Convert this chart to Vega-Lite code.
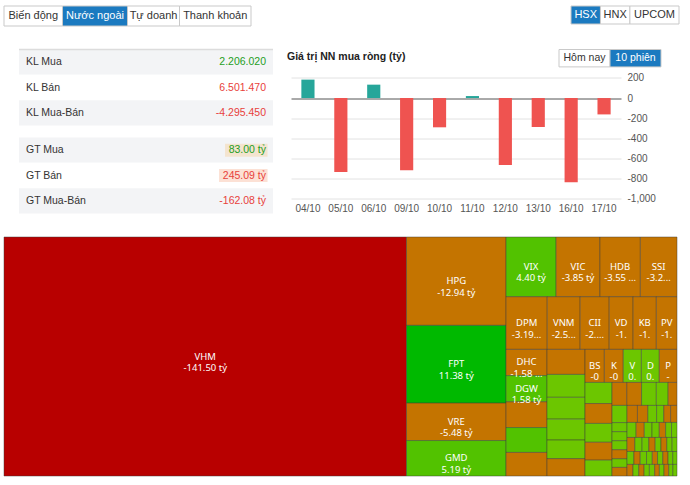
{
  "$schema": "https://vega.github.io/schema/vega-lite/v6.json",
  "background": "white",
  "padding": {"left": 3, "top": 5, "right": 14, "bottom": 10},
  "config": {
    "view": {"stroke": null}, "font": "Liberation Sans",
    "axis": {"labelOverlap": false},
    "locale": {"number": {"decimal": ".", "thousands": ",", "grouping": [3], "currency": ["$", ""], "minus": "-"}}
  },
  "spacing": 21.5,
  "vconcat": [
    {
      "spacing": 318,
      "hconcat": [
        {
          "width": 247, "height": 20,
          "data": {"values": [{"t": "Biến động"}, {"t": "Nước ngoài", "sel": true}, {"t": "Tự doanh"}, {"t": "Thanh khoản"}]},
          "transform": [
            {"window": [{"op": "row_number", "as": "o"}]},
            {"calculate": "length(datum.t)", "as": "len"},
            {"stack": "len", "groupby": [], "sort": [{"field": "o"}], "offset": "normalize", "as": ["s0", "s1"]},
            {"calculate": "(datum.s0+datum.s1)/2", "as": "sm"}
          ],
          "layer": [
            {"mark": {"type": "rect", "stroke": "#c9c9c9", "strokeWidth": 1},
             "encoding": {"x": {"field": "s0", "type": "quantitative", "scale": {"domain": [0, 1]}, "axis": null}, "x2": {"field": "s1"},
                          "fill": {"condition": {"test": "datum.sel === true", "value": "#1b7ac0"}, "value": "white"}}},
            {"mark": {"type": "text", "fontSize": 11, "baseline": "middle"},
             "encoding": {"x": {"field": "sm", "type": "quantitative", "scale": {"domain": [0, 1]}, "axis": null}, "text": {"field": "t"},
                          "color": {"condition": {"test": "datum.sel === true", "value": "white"}, "value": "#333333"}}}
          ]
        },
        {
          "width": 108, "height": 18,
          "data": {"values": [{"t": "HSX", "sel": true}, {"t": "HNX"}, {"t": "UPCOM"}]},
          "transform": [
            {"window": [{"op": "row_number", "as": "o"}]},
            {"calculate": "length(datum.t)", "as": "len"},
            {"stack": "len", "groupby": [], "sort": [{"field": "o"}], "offset": "normalize", "as": ["s0", "s1"]},
            {"calculate": "(datum.s0+datum.s1)/2", "as": "sm"}
          ],
          "layer": [
            {"mark": {"type": "rect", "stroke": "#c9c9c9", "strokeWidth": 1},
             "encoding": {"x": {"field": "s0", "type": "quantitative", "scale": {"domain": [0, 1]}, "axis": null}, "x2": {"field": "s1"},
                          "fill": {"condition": {"test": "datum.sel === true", "value": "#1b7ac0"}, "value": "white"}}},
            {"mark": {"type": "text", "fontSize": 11, "baseline": "middle"},
             "encoding": {"x": {"field": "sm", "type": "quantitative", "scale": {"domain": [0, 1]}, "axis": null}, "text": {"field": "t"},
                          "color": {"condition": {"test": "datum.sel === true", "value": "white"}, "value": "#333333"}}}
          ]
        }
      ]
    },
    {
      "spacing": 13,
      "hconcat": [
        {"width": 1, "height": 1, "data": {"values": []}, "mark": "point"},
        {
          "spacing": 12,
          "vconcat": [
            {
              "width": 254, "height": 76,
              "data": {"values": [
                {"label": "KL Mua", "text": "2.206.020", "v": 2206020, "kind": "mua"},
                {"label": "KL Bán", "text": "6.501.470", "v": 6501470, "kind": "bán"},
                {"label": "KL Mua-Bán", "text": "-4.295.450", "v": -4295450, "kind": "ròng"}
              ]},
              "encoding": {"y": {"field": "label", "type": "nominal", "sort": null, "axis": null, "scale": {"paddingInner": 0, "paddingOuter": 0}}},
              "layer": [
                {"mark": {"type": "rect"}, "encoding": {"fill": {"condition": {"test": "datum.kind === 'bán'", "value": "white"}, "value": "#f3f4f6"}}},
                {"transform": [{"filter": "datum.label === 'KL Mua'"}], "mark": {"type": "rule", "color": "#dcdcdc", "strokeWidth": 1.5},
                 "encoding": {"y": {"field": "label", "type": "nominal", "sort": null, "bandPosition": 0}}},
                {"mark": {"type": "text", "align": "left", "baseline": "middle", "fontSize": 10.5, "color": "#333333"},
                 "encoding": {"x": {"datum": "nhãn", "type": "nominal", "scale": {"type": "point", "domain": ["nhãn", "giá trị"], "padding": 0.029}, "axis": null}, "text": {"field": "label"}}},
                {"mark": {"type": "text", "align": "right", "baseline": "middle", "fontSize": 10.5},
                 "encoding": {"x": {"datum": "giá trị", "type": "nominal", "scale": {"type": "point", "domain": ["nhãn", "giá trị"], "padding": 0.029}, "axis": null}, "text": {"field": "text"},
                              "color": {"condition": {"test": "datum.kind === 'mua' || (datum.kind === 'ròng' && datum.v > 0)", "value": "#1e9e24"}, "value": "#e8413b"}}}
              ]
            },
            {
              "width": 254, "height": 76,
              "data": {"values": [
                {"label": "GT Mua", "text": "83.00 tỷ", "v": 83.00, "kind": "mua"},
                {"label": "GT Bán", "text": "245.09 tỷ", "v": 245.09, "kind": "bán"},
                {"label": "GT Mua-Bán", "text": "-162.08 tỷ", "v": -162.08, "kind": "ròng"}
              ]},
              "encoding": {"y": {"field": "label", "type": "nominal", "sort": null, "axis": null, "scale": {"paddingInner": 0, "paddingOuter": 0}}},
              "layer": [
                {"mark": {"type": "rect"}, "encoding": {"fill": {"condition": {"test": "datum.kind === 'bán'", "value": "white"}, "value": "#f3f4f6"}}},
                {"transform": [{"filter": "datum.kind !== 'ròng'"}],
                 "mark": {"type": "point", "filled": true, "size": 4, "opacity": 1, "strokeWidth": 0},
                 "encoding": {"x": {"datum": "giá trị", "type": "nominal", "scale": {"type": "point", "domain": ["nhãn", "giá trị"], "padding": 0.029}, "axis": null},
                              "shape": {"condition": {"test": "datum.kind === 'mua'", "value": "M-41,-6.5H1.5V6.5H-41Z"}, "value": "M-47,-6.5H1.5V6.5H-47Z"},
                              "color": {"condition": {"test": "datum.kind === 'mua'", "value": "#f4e4cf"}, "value": "#fce1d5"}}},
                {"mark": {"type": "text", "align": "left", "baseline": "middle", "fontSize": 10.5, "color": "#333333"},
                 "encoding": {"x": {"datum": "nhãn", "type": "nominal", "scale": {"type": "point", "domain": ["nhãn", "giá trị"], "padding": 0.029}, "axis": null}, "text": {"field": "label"}}},
                {"mark": {"type": "text", "align": "right", "baseline": "middle", "fontSize": 10.5},
                 "encoding": {"x": {"datum": "giá trị", "type": "nominal", "scale": {"type": "point", "domain": ["nhãn", "giá trị"], "padding": 0.029}, "axis": null}, "text": {"field": "text"},
                              "color": {"condition": {"test": "datum.kind === 'mua' || (datum.kind === 'ròng' && datum.v > 0)", "value": "#1e9e24"}, "value": "#e8413b"}}}
              ]
            }
          ]
        },
        {
          "width": 330, "height": 149.4,
          "title": {"text": "Giá trị NN mua ròng (tỷ)", "anchor": "start", "frame": "group", "dx": -4, "offset": -13, "fontSize": 10.5, "fontWeight": "bold", "color": "#222222", "font": "Liberation Sans"},
          "layer": [
            {
              "data": {"values": [
                {"d": "04/10", "v": 183}, {"d": "05/10", "v": -734}, {"d": "06/10", "v": 133}, {"d": "09/10", "v": -717},
                {"d": "10/10", "v": -290}, {"d": "11/10", "v": 20}, {"d": "12/10", "v": -664}, {"d": "13/10", "v": -287},
                {"d": "16/10", "v": -834}, {"d": "17/10", "v": -162.08}
              ]},
              "mark": {"type": "bar"},
              "encoding": {
                "x": {"field": "d", "type": "ordinal", "sort": null, "scale": {"paddingInner": 0.6, "paddingOuter": 0.315},
                      "axis": {"title": null, "labelAngle": 0, "domain": false, "ticks": false, "tickSize": 0, "labelPadding": 5, "labelFontSize": 10, "labelColor": "#555555", "grid": false}},
                "y": {"field": "v", "type": "quantitative", "scale": {"domain": [-1000, 200], "range": [149.4, 28.4], "nice": false, "zero": false},
                      "axis": {"orient": "right", "title": null, "values": [-1000, -800, -600, -400, -200, 0, 200], "format": ",d",
                               "labelOverlap": false, "domain": false, "ticks": false, "tickSize": 0, "labelPadding": 6, "labelFontSize": 10, "labelColor": "#555555",
                               "grid": true, "gridColor": {"condition": {"test": "datum.value === 0", "value": "#555555"}, "value": "#e2e2e2"}}},
                "color": {"condition": {"test": "datum.v >= 0", "value": "#26a69a"}, "value": "#ef5350"}
              }
            },
            {
              "data": {"values": [{"b": "Hôm nay", "nhom": "kỳ"}, {"b": "10 phiên", "nhom": "kỳ", "sel": true}]},
              "layer": [
                {"mark": {"type": "rect", "stroke": "#c9c9c9", "strokeWidth": 1},
                 "encoding": {
                   "x": {"field": "b", "type": "nominal", "sort": null, "scale": {"range": [268, 370], "paddingInner": 0, "paddingOuter": 0}, "axis": null},
                   "y": {"field": "nhom", "type": "nominal", "scale": {"range": [0, 17.4], "paddingInner": 0, "paddingOuter": 0}, "axis": null},
                   "fill": {"condition": {"test": "datum.sel === true", "value": "#1b7ac0"}, "value": "white"}
                 }},
                {"mark": {"type": "text", "fontSize": 10.5, "baseline": "middle"},
                 "encoding": {
                   "x": {"field": "b", "type": "nominal", "sort": null, "scale": {"range": [268, 370], "paddingInner": 0, "paddingOuter": 0}, "axis": null},
                   "y": {"field": "nhom", "type": "nominal", "scale": {"range": [0, 17.4], "paddingInner": 0, "paddingOuter": 0}, "axis": null},
                   "text": {"field": "b"},
                   "color": {"condition": {"test": "datum.sel === true", "value": "white"}, "value": "#333333"}
                 }}
              ]
            }
          ],
          "resolve": {"scale": {"x": "independent", "y": "independent"}}
        }
      ]
    },
    {
      "width": 673, "height": 239,
      "data": {"values": [
        {"n": "VHM", "v": -141.5, "p": "111111111", "l": "VHM\n-141.50 tỷ"},
        {"n": "HPG", "v": -12.94, "p": "211111111", "l": "HPG\n-12.94 tỷ"},
        {"n": "FPT", "v": 11.38, "p": "221111111", "l": "FPT\n11.38 tỷ"},
        {"n": "VRE", "v": -5.48, "p": "231111111", "l": "VRE\n-5.48 tỷ"},
        {"n": "GMD", "v": 5.19, "p": "241111111", "l": "GMD\n5.19 tỷ"},
        {"n": "VIX", "v": 4.40, "p": "311111111", "l": "VIX\n4.40 tỷ"},
        {"n": "VIC", "v": -3.85, "p": "312111111", "l": "VIC\n-3.85 tỷ"},
        {"n": "HDB", "v": -3.55, "p": "313111111", "l": "HDB\n-3.55 ..."},
        {"n": "SSI", "v": -3.22, "p": "314111111", "l": "SSI\n-3.2..."},
        {"n": "DPM", "v": -3.19, "p": "321111111", "l": "DPM\n-3.19..."},
        {"n": "VNM", "v": -2.55, "p": "322111111", "l": "VNM\n-2.5..."},
        {"n": "CII", "v": -2.25, "p": "323111111", "l": "CII\n-2...."},
        {"n": "VD", "v": -1.85, "p": "324111111", "l": "VD\n-1."},
        {"n": "KB", "v": -1.80, "p": "325111111", "l": "KB\n-1."},
        {"n": "PV", "v": -1.60, "p": "326111111", "l": "PV\n-1."},
        {"n": "DHC", "v": -1.58, "p": "331111111", "l": "DHC\n-1.58 ..."},
        {"n": "DGW", "v": 1.58, "p": "331211111", "l": "DGW\n1.58 tỷ"},
        {"v": -1.55, "p": "331311111"},
        {"v": 1.50, "p": "331411111"},
        {"v": -1.42, "p": "331511111"},
        {"v": -1.40, "p": "332111111"},
        {"v": 1.28, "p": "332211111"},
        {"v": 1.22, "p": "332311111"},
        {"v": 1.17, "p": "332411111"},
        {"v": 1.04, "p": "332511111"},
        {"v": -0.97, "p": "332611111"},
        {"n": "BS", "v": -0.94, "p": "333111111", "l": "BS\n-0"},
        {"n": "K", "v": -0.92, "p": "333121111", "l": "K\n-0"},
        {"n": "V", "v": 0.88, "p": "333131111", "l": "V\n0."},
        {"n": "D", "v": 0.87, "p": "333141111", "l": "D\n0."},
        {"n": "P", "v": -0.86, "p": "333151111", "l": "P\n-"},
        {"v": 0.84, "p": "333211111"},
        {"v": -0.79, "p": "333212111"},
        {"v": 0.75, "p": "333213111"},
        {"v": -0.71, "p": "333214111"},
        {"v": 0.63, "p": "333215111"},
        {"v": -0.50, "p": "333221111"},
        {"v": -0.50, "p": "333221211"},
        {"v": 0.50, "p": "333221311"},
        {"v": 0.40, "p": "333221411"},
        {"v": -0.30, "p": "333221511"},
        {"v": 0.38, "p": "333222111"},
        {"v": 0.20, "p": "333222121"},
        {"v": 0.20, "p": "333222131"},
        {"v": 0.20, "p": "333222141"},
        {"v": -0.20, "p": "333222151"},
        {"v": 0.19, "p": "333222161"},
        {"v": -0.19, "p": "333222171"},
        {"v": -0.26, "p": "333222211"},
        {"v": -0.26, "p": "333222212"},
        {"v": 0.22, "p": "333222213"},
        {"v": 0.18, "p": "333222214"},
        {"v": -0.17, "p": "333222215"},
        {"v": -0.16, "p": "333222216"},
        {"v": 0.20, "p": "333222221"},
        {"v": -0.18, "p": "333222222"},
        {"v": 0.17, "p": "333222223"},
        {"v": 0.16, "p": "333222224"},
        {"v": -0.14, "p": "333222225"},
        {"v": 0.13, "p": "333222226"},
        {"v": 0.12, "p": "333222227"},
        {"v": -0.16, "p": "333222231"},
        {"v": 0.15, "p": "333222232"},
        {"v": 0.14, "p": "333222233"},
        {"v": -0.13, "p": "333222234"},
        {"v": 0.12, "p": "333222235"},
        {"v": -0.12, "p": "333222236"},
        {"v": 0.11, "p": "333222237"},
        {"v": 0.10, "p": "333222238"},
        {"v": 0.13, "p": "333222241"},
        {"v": -0.12, "p": "333222242"},
        {"v": 0.12, "p": "333222243"},
        {"v": 0.11, "p": "333222244"},
        {"v": -0.10, "p": "333222245"},
        {"v": 0.10, "p": "333222246"},
        {"v": -0.10, "p": "333222247"},
        {"v": 0.09, "p": "333222248"},
        {"v": 0.08, "p": "333222249"},
        {"v": -0.10, "p": "333222251"},
        {"v": 0.10, "p": "333222252"},
        {"v": -0.09, "p": "333222253"},
        {"v": 0.09, "p": "333222254"},
        {"v": 0.09, "p": "333222255"},
        {"v": -0.08, "p": "333222256"},
        {"v": 0.08, "p": "333222257"},
        {"v": -0.08, "p": "333222258"},
        {"v": 0.07, "p": "333222259"},
        {"v": 0.07, "p": "33322225a"}
      ]},
      "transform": [
        {"window": [{"op": "row_number", "as": "ord"}]},
        {"calculate": "abs(datum.v)", "as": "a"},
        {"calculate": "substring(datum.p,0,1)", "as": "k1"},
        {"calculate": "substring(datum.p,0,2)", "as": "k2"},
        {"calculate": "substring(datum.p,0,3)", "as": "k3"},
        {"calculate": "substring(datum.p,0,4)", "as": "k4"},
        {"calculate": "substring(datum.p,0,5)", "as": "k5"},
        {"calculate": "substring(datum.p,0,6)", "as": "k6"},
        {"calculate": "substring(datum.p,0,7)", "as": "k7"},
        {"calculate": "substring(datum.p,0,8)", "as": "k8"},
        {"calculate": "datum.p", "as": "k9"},
        {"calculate": "0", "as": "x0"},
        {"calculate": "1", "as": "x1"},
        {"calculate": "0", "as": "y0"},
        {"calculate": "1", "as": "y1"},

        {"stack": "a", "groupby": [], "sort": [{"field": "ord"}], "offset": "normalize", "as": ["a0_1", "a1_1"]},
        {"joinaggregate": [{"op": "min", "field": "a0_1", "as": "m0_1"}, {"op": "max", "field": "a1_1", "as": "m1_1"}], "groupby": ["k1"]},
        {"calculate": "datum.x1-datum.x0", "as": "w"},
        {"calculate": "datum.x0+datum.w*datum.m1_1", "as": "x1"},
        {"calculate": "datum.x0+datum.w*datum.m0_1", "as": "x0"},

        {"stack": "a", "groupby": ["k1"], "sort": [{"field": "ord"}], "offset": "normalize", "as": ["a0_2", "a1_2"]},
        {"joinaggregate": [{"op": "min", "field": "a0_2", "as": "m0_2"}, {"op": "max", "field": "a1_2", "as": "m1_2"}], "groupby": ["k2"]},
        {"calculate": "datum.y1-datum.y0", "as": "w"},
        {"calculate": "datum.y0+datum.w*datum.m1_2", "as": "y1"},
        {"calculate": "datum.y0+datum.w*datum.m0_2", "as": "y0"},

        {"stack": "a", "groupby": ["k2"], "sort": [{"field": "ord"}], "offset": "normalize", "as": ["a0_3", "a1_3"]},
        {"joinaggregate": [{"op": "min", "field": "a0_3", "as": "m0_3"}, {"op": "max", "field": "a1_3", "as": "m1_3"}], "groupby": ["k3"]},
        {"calculate": "datum.x1-datum.x0", "as": "w"},
        {"calculate": "datum.x0+datum.w*datum.m1_3", "as": "x1"},
        {"calculate": "datum.x0+datum.w*datum.m0_3", "as": "x0"},

        {"stack": "a", "groupby": ["k3"], "sort": [{"field": "ord"}], "offset": "normalize", "as": ["a0_4", "a1_4"]},
        {"joinaggregate": [{"op": "min", "field": "a0_4", "as": "m0_4"}, {"op": "max", "field": "a1_4", "as": "m1_4"}], "groupby": ["k4"]},
        {"calculate": "datum.y1-datum.y0", "as": "w"},
        {"calculate": "datum.y0+datum.w*datum.m1_4", "as": "y1"},
        {"calculate": "datum.y0+datum.w*datum.m0_4", "as": "y0"},

        {"stack": "a", "groupby": ["k4"], "sort": [{"field": "ord"}], "offset": "normalize", "as": ["a0_5", "a1_5"]},
        {"joinaggregate": [{"op": "min", "field": "a0_5", "as": "m0_5"}, {"op": "max", "field": "a1_5", "as": "m1_5"}], "groupby": ["k5"]},
        {"calculate": "datum.x1-datum.x0", "as": "w"},
        {"calculate": "datum.x0+datum.w*datum.m1_5", "as": "x1"},
        {"calculate": "datum.x0+datum.w*datum.m0_5", "as": "x0"},

        {"stack": "a", "groupby": ["k5"], "sort": [{"field": "ord"}], "offset": "normalize", "as": ["a0_6", "a1_6"]},
        {"joinaggregate": [{"op": "min", "field": "a0_6", "as": "m0_6"}, {"op": "max", "field": "a1_6", "as": "m1_6"}], "groupby": ["k6"]},
        {"calculate": "datum.y1-datum.y0", "as": "w"},
        {"calculate": "datum.y0+datum.w*datum.m1_6", "as": "y1"},
        {"calculate": "datum.y0+datum.w*datum.m0_6", "as": "y0"},

        {"stack": "a", "groupby": ["k6"], "sort": [{"field": "ord"}], "offset": "normalize", "as": ["a0_7", "a1_7"]},
        {"joinaggregate": [{"op": "min", "field": "a0_7", "as": "m0_7"}, {"op": "max", "field": "a1_7", "as": "m1_7"}], "groupby": ["k7"]},
        {"calculate": "datum.x1-datum.x0", "as": "w"},
        {"calculate": "datum.x0+datum.w*datum.m1_7", "as": "x1"},
        {"calculate": "datum.x0+datum.w*datum.m0_7", "as": "x0"},

        {"stack": "a", "groupby": ["k7"], "sort": [{"field": "ord"}], "offset": "normalize", "as": ["a0_8", "a1_8"]},
        {"joinaggregate": [{"op": "min", "field": "a0_8", "as": "m0_8"}, {"op": "max", "field": "a1_8", "as": "m1_8"}], "groupby": ["k8"]},
        {"calculate": "datum.y1-datum.y0", "as": "w"},
        {"calculate": "datum.y0+datum.w*datum.m1_8", "as": "y1"},
        {"calculate": "datum.y0+datum.w*datum.m0_8", "as": "y0"},

        {"stack": "a", "groupby": ["k8"], "sort": [{"field": "ord"}], "offset": "normalize", "as": ["a0_9", "a1_9"]},
        {"joinaggregate": [{"op": "min", "field": "a0_9", "as": "m0_9"}, {"op": "max", "field": "a1_9", "as": "m1_9"}], "groupby": ["k9"]},
        {"calculate": "datum.x1-datum.x0", "as": "w"},
        {"calculate": "datum.x0+datum.w*datum.m1_9", "as": "x1"},
        {"calculate": "datum.x0+datum.w*datum.m0_9", "as": "x0"},

        {"calculate": "(datum.x0+datum.x1)/2", "as": "cx"},
        {"calculate": "(datum.y0+datum.y1)/2", "as": "cy"}
      ],
      "layer": [
        {"mark": {"type": "rect", "stroke": "#3a3a3a", "strokeOpacity": 0.45, "strokeWidth": 1},
         "encoding": {
           "x": {"field": "x0", "type": "quantitative", "scale": {"domain": [0, 1], "nice": false}, "axis": null},
           "x2": {"field": "x1"},
           "y": {"field": "y0", "type": "quantitative", "scale": {"domain": [0, 1], "nice": false, "reverse": true}, "axis": null},
           "y2": {"field": "y1"},
           "color": {"field": "v", "type": "quantitative", "scale": {"type": "threshold", "domain": [-50, 0, 1.5, 8], "range": ["#b80000", "#c47400", "#6cc600", "#52c200", "#00b900"]}, "legend": null}
         }},
        {"transform": [{"filter": "isValid(datum.l)"}],
         "mark": {"type": "text", "color": "white", "fontSize": 9.5, "font": "Noto Sans", "lineBreak": "\n", "lineHeight": 11.5, "baseline": "middle", "align": "center"},
         "encoding": {
           "x": {"field": "cx", "type": "quantitative"},
           "y": {"field": "cy", "type": "quantitative"},
           "text": {"field": "l"}
         }}
      ]
    }
  ]
}
